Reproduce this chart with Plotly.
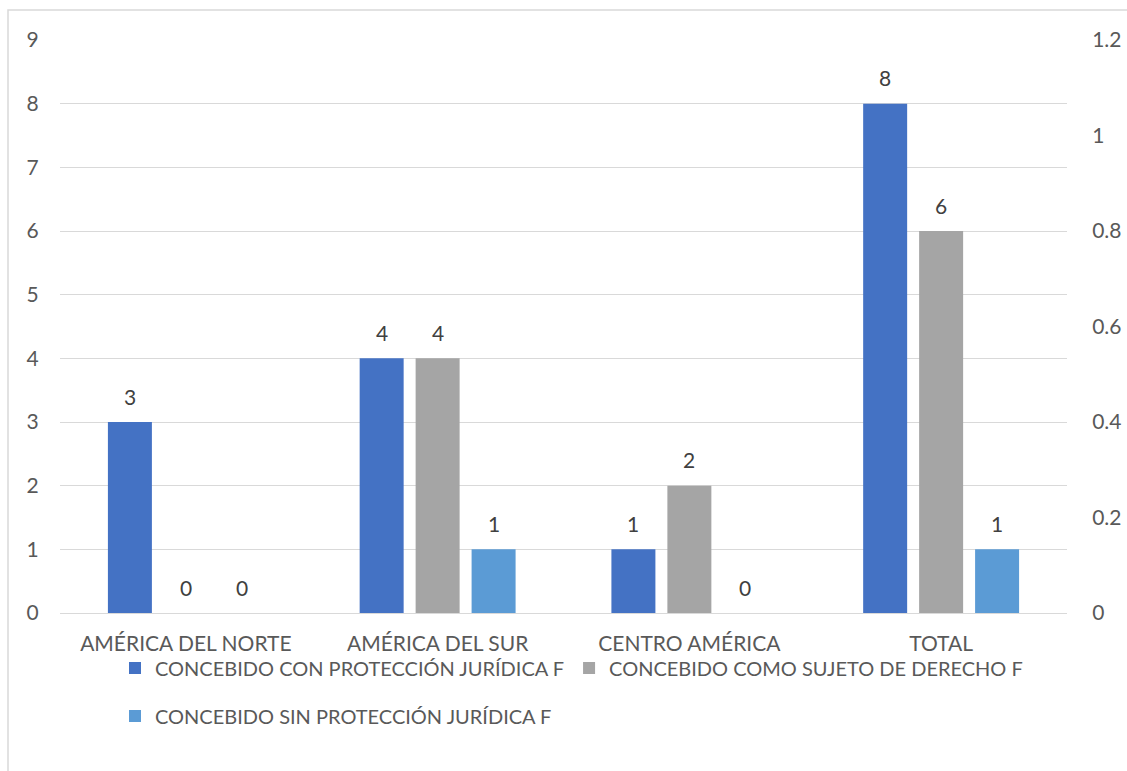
import plotly.graph_objects as go

categories = ["AMÉRICA DEL NORTE", "AMÉRICA DEL SUR", "CENTRO AMÉRICA", "TOTAL"]
series_names = [
    "CONCEBIDO CON PROTECCIÓN JURÍDICA F",
    "CONCEBIDO COMO SUJETO DE DERECHO F",
    "CONCEBIDO SIN PROTECCIÓN JURÍDICA F",
]
con_proteccion = [3, 4, 1, 8]
sujeto_derecho = [0, 4, 2, 6]
sin_proteccion = [0, 1, 0, 1]
left_ticks = [0, 1, 2, 3, 4, 5, 6, 7, 8, 9]
right_ticks = [0, 0.2, 0.4, 0.6, 0.8, 1, 1.2]

colors = ["#4472C4", "#A5A5A5", "#5B9BD5"]
series_values = [con_proteccion, sujeto_derecho, sin_proteccion]
legends = ["legend", "legend", "legend2"]

FONT = "Lato"
TICK_SIZE = 21
LEG_SIZE = 20
W, H = 1127, 771
ML, MR, MT, MB = 60, 60, 40, 158
pw, ph = W - ML - MR, H - MT - MB

BARGAP = 0.333
fig = go.Figure()
for name, vals, col, lg in zip(series_names, series_values, colors, legends):
    fig.add_trace(go.Bar(
        x=categories, y=vals, name=name, marker=dict(color=col, line=dict(width=0)),
        legend=lg, hoverinfo="x+y+name",
    ))

# invisible trace to activate the secondary axis
fig.add_trace(go.Scatter(x=categories, y=[None] * len(categories), yaxis="y2",
                         showlegend=False, hoverinfo="skip", mode="markers"))

# data labels as annotations placed above each bar
n = len(series_values)
slot = (1 - BARGAP) / n
for i, vals in enumerate(series_values):
    off = (i - (n - 1) / 2) * slot
    for j, v in enumerate(vals):
        fig.add_annotation(x=j + off, y=v, xref="x", yref="y", text=str(v),
                           showarrow=False, yanchor="middle", yshift=26,
                           font=dict(family=FONT, size=TICK_SIZE, color="#404040"))

fig.update_layout(
    width=W, height=H,
    margin=dict(l=ML, r=MR, t=MT, b=MB, autoexpand=False),
    paper_bgcolor="white", plot_bgcolor="white",
    barmode="group", bargap=BARGAP, bargroupgap=0.214,
    font=dict(family=FONT, size=TICK_SIZE, color="#595959"),
    xaxis=dict(type="category", showgrid=False, showline=False, zeroline=False,
               automargin=False,
               ticks="outside", ticklen=12, tickcolor="rgba(0,0,0,0)",
               tickfont=dict(family=FONT, size=TICK_SIZE, color="#595959")),
    yaxis=dict(range=[0, 9], tickvals=left_ticks, showgrid=True, gridcolor="#D9D9D9",
               gridwidth=1, zeroline=True, zerolinecolor="#D9D9D9", zerolinewidth=1,
               automargin=False,
               showline=False, ticks="outside", ticklen=16, tickcolor="rgba(0,0,0,0)",
               tickfont=dict(family=FONT, size=TICK_SIZE, color="#595959")),
    yaxis2=dict(range=[0, 1.2], tickvals=right_ticks, overlaying="y", side="right",
                showgrid=False, zeroline=False, showline=False, automargin=False,
                ticks="outside", ticklen=20, tickcolor="rgba(0,0,0,0)",
                tickfont=dict(family=FONT, size=TICK_SIZE, color="#595959")),
    legend=dict(orientation="h", x=(115 - ML) / pw, xanchor="left",
                y=-(668 - (H - MB)) / ph, yanchor="middle",
                font=dict(family=FONT, size=LEG_SIZE, color="#595959"),
                bgcolor="rgba(0,0,0,0)", itemclick=False),
    legend2=dict(orientation="h", x=(115 - ML) / pw, xanchor="left",
                 y=-(716 - (H - MB)) / ph, yanchor="middle",
                 font=dict(family=FONT, size=LEG_SIZE, color="#595959"),
                 bgcolor="rgba(0,0,0,0)"),
    showlegend=True,
)

# chart frame
fig.add_shape(type="rect", xref="paper", yref="paper",
              x0=(8 - ML) / pw, x1=(W + 20 - ML) / pw,
              y0=-(H + 20 - (H - MB)) / ph, y1=1 + (MT - 10) / ph,
              line=dict(color="#D9D9D9", width=1.5), fillcolor="rgba(0,0,0,0)", layer="below")

fig.write_html("out.html", config={"displayModeBar": False},
               post_script="document.body.style.margin='0';document.body.style.overflow='hidden';")
